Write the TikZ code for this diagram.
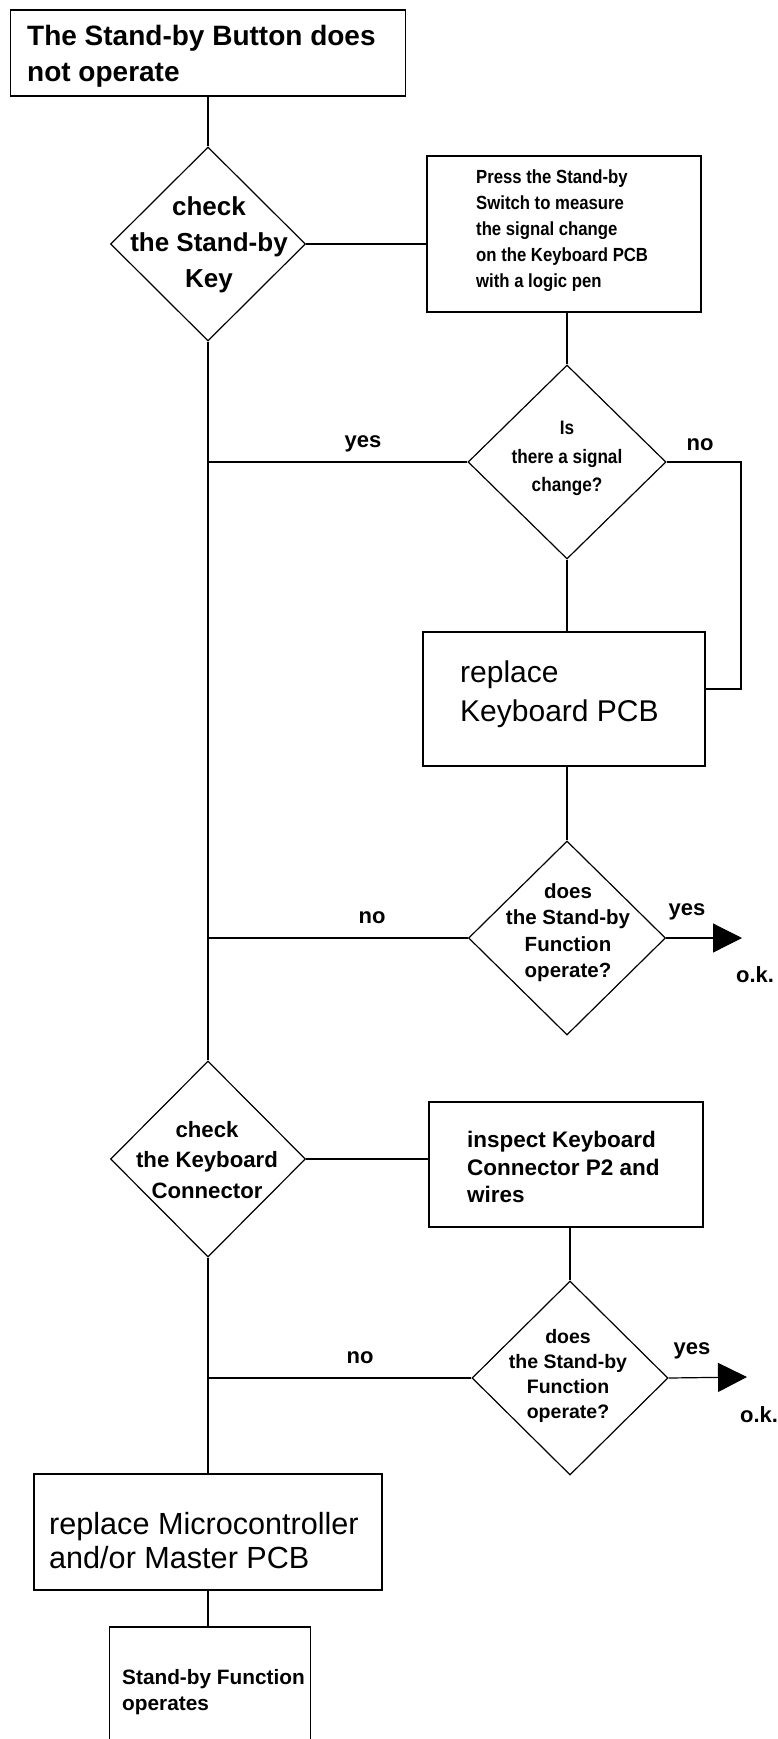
\documentclass[tikz,border=0pt]{standalone}
\usepackage{fontspec}
\setmainfont{Liberation Sans}
\newfontfamily\condfont{Liberation Sans}[FakeStretch=0.88]
\usetikzlibrary{shapes.geometric,arrows.meta}
\tikzset{
  boxnode/.style={draw, rectangle, line width=1.2pt, inner sep=0pt},
  decnode/.style={draw, diamond, line width=1.2pt, inner sep=0pt},
  conn/.style={line width=1.2pt},
  arr/.style={line width=1.2pt, -{Triangle[length=29pt,width=29pt]}},
  ltxt/.style={inner sep=0pt, align=left, anchor=north west},
  ctxt/.style={inner sep=0pt, align=center, anchor=north},
  lbl/.style={inner sep=0pt, anchor=base, font=\bfseries\fontsize{22}{26}\selectfont}
}
\begin{document}
\begin{tikzpicture}[x=1pt,y=-1pt]
\fill[white] (0,0) rectangle (778,1739);
\clip (0,0) rectangle (778,1739);
% boxes
\node[boxnode, minimum width=395pt, minimum height=86pt] (top) at (208,53) {};
\node[boxnode, minimum width=274pt, minimum height=156pt] (press) at (564,234) {};
\node[boxnode, minimum width=282pt, minimum height=134pt] (kb) at (564,699) {};
\node[boxnode, minimum width=274pt, minimum height=125pt] (insp) at (566,1164.5) {};
\node[boxnode, minimum width=348pt, minimum height=116pt] (micro) at (208,1532) {};
\node[boxnode, minimum width=201pt, minimum height=133pt] (final) at (210,1693.5) {};
% diamonds
\node[decnode, minimum width=195pt, minimum height=194pt] (d1) at (208,244) {};
\node[decnode, minimum width=198pt, minimum height=194pt] (d2) at (567,462) {};
\node[decnode, minimum width=197pt, minimum height=194pt] (d3) at (567,938) {};
\node[decnode, minimum width=195pt, minimum height=196pt] (d4) at (208,1159) {};
\node[decnode, minimum width=196pt, minimum height=194pt] (d5) at (570,1378) {};
% texts
\node[ltxt, font=\bfseries\fontsize{28}{36}\selectfont] (ttop) at (27,25) {The Stand-by Button does\\not operate};
\node[ctxt, font=\bfseries\fontsize{26}{36}\selectfont] (td1) at (209,196) {check\\the Stand-by\\Key};
\node[ltxt, font=\condfont\bfseries\fontsize{19}{26}\selectfont] (tpress) at (476,169.5) {Press the Stand-by\\Switch to measure\\the signal change\\on the Keyboard PCB\\with a logic pen};
\node[ctxt, font=\condfont\bfseries\fontsize{19.5}{28.5}\selectfont] (td2) at (567,421) {Is\\there a signal\\change?};
\node[ltxt, font=\fontsize{30}{39}\selectfont] (tkb) at (460,661) {replace\\Keyboard PCB};
\node[ctxt, font=\bfseries\fontsize{20.5}{26.5}\selectfont] (td3) at (568,883) {does\\the Stand-by\\Function\\operate?};
\node[ctxt, font=\bfseries\fontsize{22.2}{30.5}\selectfont] (td4) at (207,1121) {check\\the Keyboard\\Connector};
\node[ltxt, font=\bfseries\fontsize{22.5}{27.5}\selectfont] (tinsp) at (467,1131) {inspect Keyboard\\Connector P2 and\\wires};
\node[ctxt, font=\bfseries\fontsize{19.5}{25}\selectfont] (td5) at (568,1329) {does\\the Stand-by\\Function\\operate?};
\node[ltxt, font=\fontsize{30.6}{34}\selectfont] (tmicro) at (49,1512) {replace Microcontroller\\and/or Master PCB};
\node[ltxt, font=\bfseries\fontsize{20.8}{26}\selectfont] (tfinal) at (122,1669) {Stand-by Function\\operates};
% connector end points
\coordinate (c1) at (741,462);
\coordinate (ok1tip) at (742,938);
\coordinate (ok2tip) at (747,1377);
% connectors
\draw[conn] (top.south) -- (d1.north);
\draw[conn] (d1.east) -- (d1.east -| press.west);
\draw[conn] (d2.north |- press.south) -- (d2.north);
\draw[conn] (d2.west) -- (d2.west -| d1.south);
\draw[conn] (d2.east) -- (c1) |- ([yshift=10pt]kb.east);
\draw[conn] (d2.south) -- (d2.south |- kb.north);
\draw[conn] (d3.north |- kb.south) -- (d3.north);
\draw[conn] (d3.west) -- (d3.west -| d1.south);
\draw[arr] (d3.east) -- (ok1tip);
\draw[conn] (d1.south) -- (d4.north);
\draw[conn] (d4.east) -- (d4.east -| insp.west);
\draw[conn] (d5.north |- insp.south) -- (d5.north);
\draw[conn] (d5.west) -- (d5.west -| d4.south);
\draw[arr] (d5.east) -- (ok2tip);
\draw[conn] (d4.south) -- (micro.north);
\draw[conn] (micro.south) -- (micro.south |- final.north);
% labels
\node[lbl] (yes1) at (363,447) {yes};
\node[lbl] (no1) at (700,450) {no};
\node[lbl] (no2) at (372,923) {no};
\node[lbl] (yes2) at (687,915) {yes};
\node[lbl] (ok1) at (755,982) {o.k.};
\node[lbl] (no3) at (360,1363) {no};
\node[lbl] (yes3) at (692,1354) {yes};
\node[lbl] (ok2) at (759,1422) {o.k.};
\end{tikzpicture}
\end{document}
